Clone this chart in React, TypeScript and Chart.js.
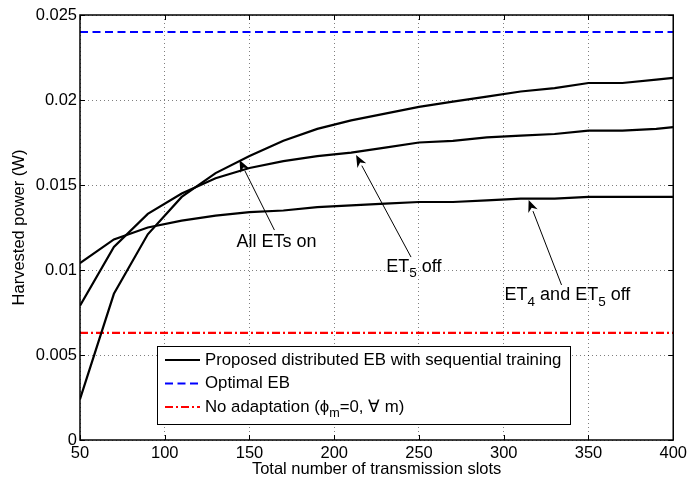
import React, { useEffect, useRef } from 'react';
import { Chart, registerables } from 'chart.js';

Chart.register(...registerables);

// ---------- data ----------
const slots = [50, 70, 90, 110, 130, 150, 170, 190, 210, 230, 250, 270, 290, 310, 330, 350, 370, 390, 400];
const allEtsOn = [0.0024, 0.0086, 0.0121, 0.0143, 0.0157, 0.0167, 0.0176, 0.0183, 0.0188, 0.0192, 0.0196, 0.0199, 0.0202, 0.0205, 0.0207, 0.021, 0.021, 0.0212, 0.0213];
const et5Off = [0.0079, 0.01135, 0.0133, 0.0145, 0.0154, 0.016, 0.0164, 0.0167, 0.0169, 0.0172, 0.0175, 0.0176, 0.0178, 0.0179, 0.018, 0.0182, 0.0182, 0.0183, 0.0184];
const et4et5Off = [0.0104, 0.0118, 0.0125, 0.0129, 0.0132, 0.0134, 0.0135, 0.0137, 0.0138, 0.0139, 0.014, 0.014, 0.0141, 0.0142, 0.0142, 0.0143, 0.0143, 0.0143, 0.0143];
const optimalEB = 0.024;
const noAdaptation = 0.0063;
const xTickValues = [50, 100, 150, 200, 250, 300, 350, 400];
const yTickValues = [0, 0.005, 0.01, 0.015, 0.02, 0.025];

type Seg = { t: string; sub?: boolean };

const legendLabels: Seg[][] = [
  [{ t: 'Proposed distributed EB with sequential training' }],
  [{ t: 'Optimal EB' }],
  [{ t: 'No adaptation (ϕ' }, { t: 'm', sub: true }, { t: '=0, ∀ m)' }],
];
const legendDatasets = [0, 3, 4];

const annotationLabels: Seg[][] = [
  [{ t: 'All ETs on' }],
  [{ t: 'ET' }, { t: '5', sub: true }, { t: ' off' }],
  [{ t: 'ET' }, { t: '4', sub: true }, { t: ' and ET' }, { t: '5', sub: true }, { t: ' off' }],
];
// annotation anchors in data coordinates [slot, power]
const annotationText = [[166, 0.01165], [247, 0.01018], [337.6, 0.00853]];
const annotationTail = [[164.7, 0.01235], [245.3, 0.01076], [334.1, 0.00912]];
const annotationTip = [[144.1, 0.01647], [212.9, 0.01676], [314.7, 0.01412]];

// ---------- styling ----------
const FONT = '"Liberation Sans", Arial, Helvetica, sans-serif';
const TICK_SIZE = 16.5;
const LEGEND_SIZE = 16.8;
const ANNOT_SIZE = 18;

function segsWidth(ctx: CanvasRenderingContext2D, segs: Seg[], size: number) {
  let w = 0;
  for (const s of segs) {
    ctx.font = `${s.sub ? size * 0.75 : size}px ${FONT}`;
    w += ctx.measureText(s.t).width;
  }
  return w;
}

function drawSegs(ctx: CanvasRenderingContext2D, segs: Seg[], x: number, y: number, size: number) {
  ctx.textBaseline = 'middle';
  ctx.textAlign = 'left';
  let cx = x;
  for (const s of segs) {
    const fs = s.sub ? size * 0.75 : size;
    ctx.font = `${fs}px ${FONT}`;
    ctx.fillText(s.t, cx, s.sub ? y + size * 0.38 : y);
    cx += ctx.measureText(s.t).width;
  }
}

const boxPlugin = {
  id: 'matlabBox',
  afterDraw(chart: any) {
    const { ctx, chartArea: a, scales } = chart;
    ctx.save();
    // inner ticks
    ctx.strokeStyle = '#000';
    ctx.lineWidth = 1;
    ctx.setLineDash([]);
    const tl = 5;
    ctx.beginPath();
    for (const v of xTickValues) {
      const px = Math.round(scales.x.getPixelForValue(v)) + 0.5;
      ctx.moveTo(px, a.bottom); ctx.lineTo(px, a.bottom - tl);
      ctx.moveTo(px, a.top); ctx.lineTo(px, a.top + tl);
    }
    for (const v of yTickValues) {
      const py = Math.round(scales.y.getPixelForValue(v)) + 0.5;
      ctx.moveTo(a.left, py); ctx.lineTo(a.left + tl, py);
      ctx.moveTo(a.right, py); ctx.lineTo(a.right - tl, py);
    }
    ctx.stroke();
    // box
    ctx.lineWidth = 1.5;
    ctx.strokeRect(a.left, a.top, a.right - a.left, a.bottom - a.top);

    // annotations
    ctx.fillStyle = '#000';
    ctx.strokeStyle = '#000';
    for (let i = 0; i < annotationLabels.length; i++) {
      const tx = scales.x.getPixelForValue(annotationText[i][0]);
      const ty = scales.y.getPixelForValue(annotationText[i][1]);
      const w = segsWidth(ctx, annotationLabels[i], ANNOT_SIZE);
      drawSegs(ctx, annotationLabels[i], tx - w / 2, ty, ANNOT_SIZE);
      const x0 = scales.x.getPixelForValue(annotationTail[i][0]);
      const y0 = scales.y.getPixelForValue(annotationTail[i][1]);
      const x1 = scales.x.getPixelForValue(annotationTip[i][0]);
      const y1 = scales.y.getPixelForValue(annotationTip[i][1]);
      const ang = Math.atan2(y1 - y0, x1 - x0);
      const hl = 12, hw = 5;
      const bx = x1 - hl * Math.cos(ang), by = y1 - hl * Math.sin(ang);
      ctx.lineWidth = 1;
      ctx.beginPath();
      ctx.moveTo(x0, y0); ctx.lineTo(bx, by);
      ctx.stroke();
      ctx.beginPath();
      ctx.moveTo(x1, y1);
      ctx.lineTo(bx + hw * Math.sin(ang), by - hw * Math.cos(ang));
      ctx.lineTo(x1 - hl * 0.7 * Math.cos(ang), y1 - hl * 0.7 * Math.sin(ang));
      ctx.lineTo(bx - hw * Math.sin(ang), by + hw * Math.cos(ang));
      ctx.closePath();
      ctx.fill();
    }

    // legend
    const left = a.left + 77;
    const bottom = a.bottom - 16;
    const rowH = 23.5;
    const height = 78;
    const top = bottom - height;
    let maxW = 0;
    for (const l of legendLabels) maxW = Math.max(maxW, segsWidth(ctx, l, LEGEND_SIZE));
    const width = 8 + 35 + 5 + maxW + 9;
    ctx.fillStyle = '#fff';
    ctx.fillRect(left, top, width, height);
    ctx.lineWidth = 1;
    ctx.strokeStyle = '#000';
    ctx.setLineDash([]);
    ctx.strokeRect(Math.round(left) + 0.5, Math.round(top) + 0.5, Math.round(width), Math.round(height));
    for (let i = 0; i < legendLabels.length; i++) {
      const ds = chart.data.datasets[legendDatasets[i]];
      const cy = top + 14 + i * rowH;
      ctx.strokeStyle = ds.borderColor;
      ctx.lineWidth = ds.borderWidth;
      ctx.setLineDash(ds.borderDash || []);
      ctx.beginPath();
      ctx.moveTo(left + 8, cy); ctx.lineTo(left + 43, cy);
      ctx.stroke();
      ctx.setLineDash([]);
      ctx.fillStyle = '#000';
      drawSegs(ctx, legendLabels[i], left + 48, cy, LEGEND_SIZE);
    }
    ctx.restore();
  },
};

export default function App() {
  const ref = useRef<HTMLCanvasElement>(null);
  useEffect(() => {
    if (!ref.current) return;
    const curve = (ys: number[]) => slots.map((x, i) => ({ x, y: ys[i] }));
    const flat = (v: number) => [{ x: slots[0], y: v }, { x: slots[slots.length - 1], y: v }];
    const chart = new Chart(ref.current, {
      type: 'line',
      data: {
        datasets: [
          { label: 'All ETs on', data: curve(allEtsOn), borderColor: '#000', borderWidth: 2.2, pointRadius: 0, tension: 0 },
          { label: 'ET5 off', data: curve(et5Off), borderColor: '#000', borderWidth: 2.2, pointRadius: 0, tension: 0 },
          { label: 'ET4 and ET5 off', data: curve(et4et5Off), borderColor: '#000', borderWidth: 2.2, pointRadius: 0, tension: 0 },
          { label: 'Optimal EB', data: flat(optimalEB), borderColor: '#0000ff', borderWidth: 2.2, borderDash: [8, 4.5], pointRadius: 0 },
          { label: 'No adaptation', data: flat(noAdaptation), borderColor: '#ff0000', borderWidth: 2.2, borderDash: [8, 3, 2, 3], pointRadius: 0 },
        ],
      } as any,
      options: {
        responsive: false,
        animation: false,
        devicePixelRatio: 1,
        layout: { padding: { left: 0, right: 16, top: 15, bottom: 0 } },
        plugins: { legend: { display: false }, tooltip: { enabled: false } },
        scales: {
          x: {
            type: 'linear',
            min: 50,
            max: 400,
            afterBuildTicks: (s: any) => { s.ticks = xTickValues.map((value) => ({ value })); },
            afterFit: (s: any) => { s.height = 39; },
            ticks: { color: '#000', font: { family: FONT, size: TICK_SIZE }, padding: 4, maxRotation: 0, autoSkip: false },
            grid: { color: 'rgba(0,0,0,0.5)', lineWidth: 1, drawTicks: false },
            border: { display: false, dash: [1, 3] },
            title: { display: true, text: 'Total number of transmission slots', color: '#000', font: { family: FONT, size: TICK_SIZE }, padding: { top: 0, bottom: 0 } },
          },
          y: {
            type: 'linear',
            min: 0,
            max: 0.025,
            afterBuildTicks: (s: any) => { s.ticks = yTickValues.map((value) => ({ value })); },
            afterFit: (s: any) => { s.width = 80; },
            ticks: { color: '#000', font: { family: FONT, size: TICK_SIZE }, padding: 3, callback: (v: any) => String(+Number(v).toFixed(3)) },
            grid: { color: 'rgba(0,0,0,0.5)', lineWidth: 1, drawTicks: false },
            border: { display: false, dash: [1, 3] },
            title: { display: true, text: 'Harvested power (W)', color: '#000', font: { family: FONT, size: TICK_SIZE }, padding: { top: 10, bottom: 0 } },
          },
        },
      } as any,
      plugins: [boxPlugin],
    });
    return () => chart.destroy();
  }, []);
  return (
    <div style={{ position: 'fixed', left: 0, top: 0, width: 691, height: 479, background: '#fff' }}>
      <canvas ref={ref} width={691} height={479} style={{ display: 'block' }} />
    </div>
  );
}
